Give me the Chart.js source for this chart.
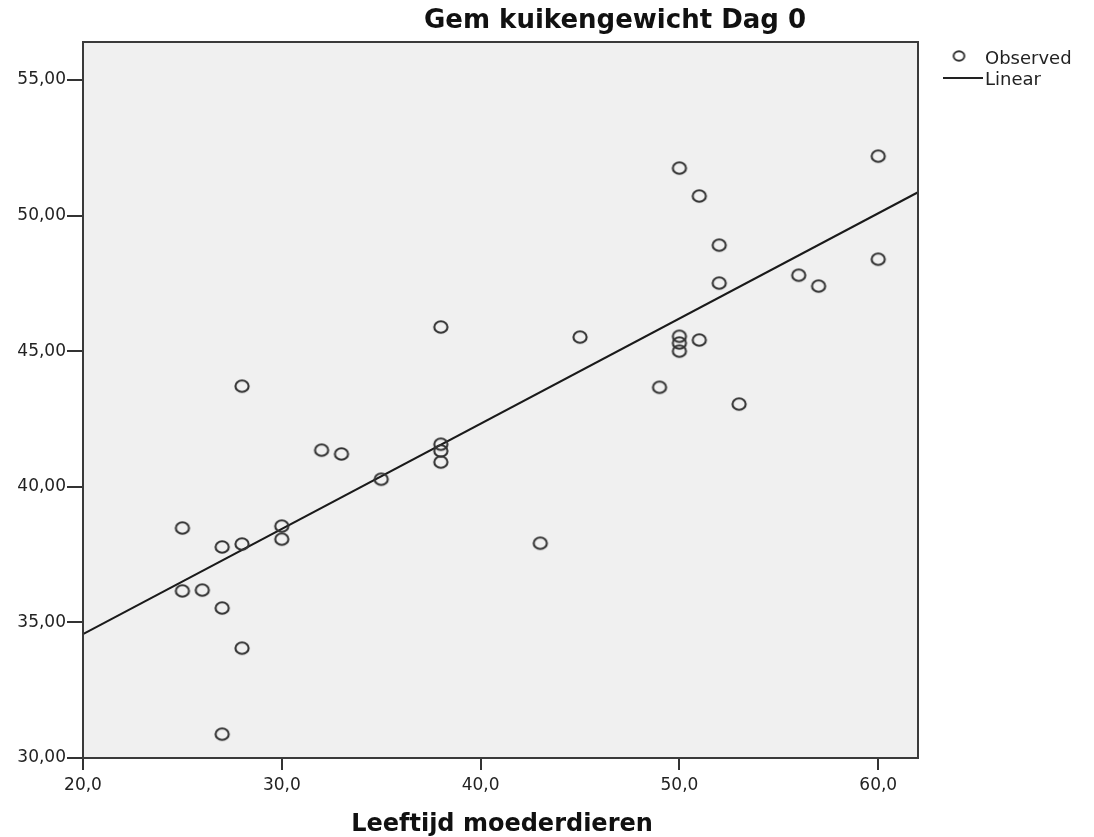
<!DOCTYPE html>
<html>
<head>
<meta charset="utf-8">
<script src="https://cdn.jsdelivr.net/npm/chart.js@4/dist/chart.umd.min.js"></script>
<style>
  body { margin: 0; background: #fff; }
</style>
</head>
<body>
<canvas id="chart" width="1094" height="837"></canvas>
<script>
// leeftijd moederdieren (x) and gem kuikengewicht dag 0 (y)
const ageValues = [25, 25, 26, 27, 27, 27, 28, 28, 28, 30, 30, 32, 33, 35, 38, 38, 38, 38, 43, 45, 49, 50, 50, 50, 50, 51, 51, 52, 52, 53, 56, 57, 60, 60];
const weightValues = [38.48, 36.16, 36.19, 37.78, 35.53, 30.88, 43.71, 37.89, 34.05, 38.55, 38.07, 41.35, 41.21, 40.28, 45.89, 41.57, 41.32, 40.91, 37.92, 45.52, 43.67, 51.75, 45.55, 45.30, 45.00, 50.72, 45.41, 48.91, 47.51, 43.05, 47.80, 47.40, 52.19, 48.39];

// fitted line, read at both ends of the x axis
const lineX = [20, 62];
const lineY = [34.57, 50.86];

const xTicks = [20, 30, 40, 50, 60];
const yTicks = [30, 35, 40, 45, 50, 55];

const chartTitle = "Gem kuikengewicht Dag 0";
const xTitle = "Leeftijd moederdieren";
const legendLabels = ["Observed", "Linear"];

const observed = ageValues.map((x, i) => ({ x: x, y: weightValues[i] }));
const fitLine = lineX.map((x, i) => ({ x: x, y: lineY[i] }));

const FONT = "'DejaVu Sans', Verdana, sans-serif";

//open slightly wide circle like the SPSS marker
function makeMarker(rx, ry, lw) {
  const c = document.createElement("canvas");
  c.width = Math.ceil(rx * 2 + lw + 2);
  c.height = Math.ceil(ry * 2 + lw + 2);
  const g = c.getContext("2d");
  g.strokeStyle = "#333";
  g.lineWidth = lw;
  g.beginPath();
  g.ellipse(c.width / 2, c.height / 2, rx, ry, 0, 0, Math.PI * 2);
  g.stroke();
  return c;
}
const marker = makeMarker(6.6, 5.7, 2.1);
const legendMarker = makeMarker(5.4, 4.8, 1.9);

//plot background, frame, titles and legend
const decor = {
  id: "decor",
  beforeDatasetsDraw(chart) {
    const ctx = chart.ctx;
    const a = chart.chartArea;
    ctx.save();
    ctx.fillStyle = "#f0f0f0";
    ctx.fillRect(a.left, a.top, a.right - a.left, a.bottom - a.top);
    ctx.restore();
  },
  afterDraw(chart) {
    const ctx = chart.ctx;
    const a = chart.chartArea;
    ctx.save();
    ctx.strokeStyle = "#3a3a3a";
    ctx.lineWidth = 2;
    ctx.strokeRect(a.left, a.top, a.right - a.left, a.bottom - a.top);

    ctx.fillStyle = "#111";
    ctx.textAlign = "center";
    ctx.textBaseline = "alphabetic";
    ctx.font = "bold 26px " + FONT;
    ctx.fillText(chartTitle, 615, 28);
    ctx.font = "bold 24px " + FONT;
    ctx.fillText(xTitle, 502, 831);

    // legend
    ctx.textAlign = "left";
    ctx.font = "18px " + FONT;
    ctx.fillStyle = "#222";
    ctx.fillText(legendLabels[0], 985, 64);
    ctx.fillText(legendLabels[1], 985, 85);
    ctx.drawImage(legendMarker, 959 - legendMarker.width / 2, 56 - legendMarker.height / 2);
    ctx.strokeStyle = "#222";
    ctx.lineWidth = 2;
    ctx.beginPath();
    ctx.moveTo(943, 78);
    ctx.lineTo(983, 78);
    ctx.stroke();
    ctx.restore();
  }
};

const tickFont = { family: FONT, size: 17 };

new Chart(document.getElementById("chart"), {
  type: "scatter",
  data: {
    datasets: [
      {
        label: legendLabels[0],
        data: observed,
        pointStyle: marker,
        pointRadius: 6,
        showLine: false
      },
      {
        label: legendLabels[1],
        data: fitLine,
        type: "line",
        showLine: true,
        pointRadius: 0,
        borderColor: "#1a1a1a",
        borderWidth: 2,
        fill: false
      }
    ]
  },
  plugins: [decor],
  options: {
    responsive: false,
    animation: false,
    layout: { padding: { top: 42, right: 176, left: 0, bottom: 0 } },
    plugins: {
      legend: { display: false },
      title: { display: false },
      tooltip: { enabled: false }
    },
    scales: {
      x: {
        type: "linear",
        min: 20,
        max: 62,
        afterBuildTicks: scale => { scale.ticks = xTicks.map(v => ({ value: v })); },
        grid: { drawOnChartArea: false, tickLength: 12, color: "#333", lineWidth: 2 },
        border: { display: false },
        ticks: {
          color: "#222",
          font: tickFont,
          padding: 5,
          maxRotation: 0,
          callback: v => v.toFixed(1).replace(".", ",")
        },
        afterFit: scale => { scale.height = 79; }
      },
      y: {
        type: "linear",
        min: 30,
        max: 56.4,
        afterBuildTicks: scale => { scale.ticks = yTicks.map(v => ({ value: v })); },
        grid: { drawOnChartArea: false, tickLength: 16, color: "#333", lineWidth: 2 },
        border: { display: false },
        ticks: {
          color: "#222",
          font: tickFont,
          padding: 1,
          callback: v => v.toFixed(2).replace(".", ",")
        },
        afterFit: scale => { scale.width = 83; }
      }
    }
  }
});
</script>
</body>
</html>
